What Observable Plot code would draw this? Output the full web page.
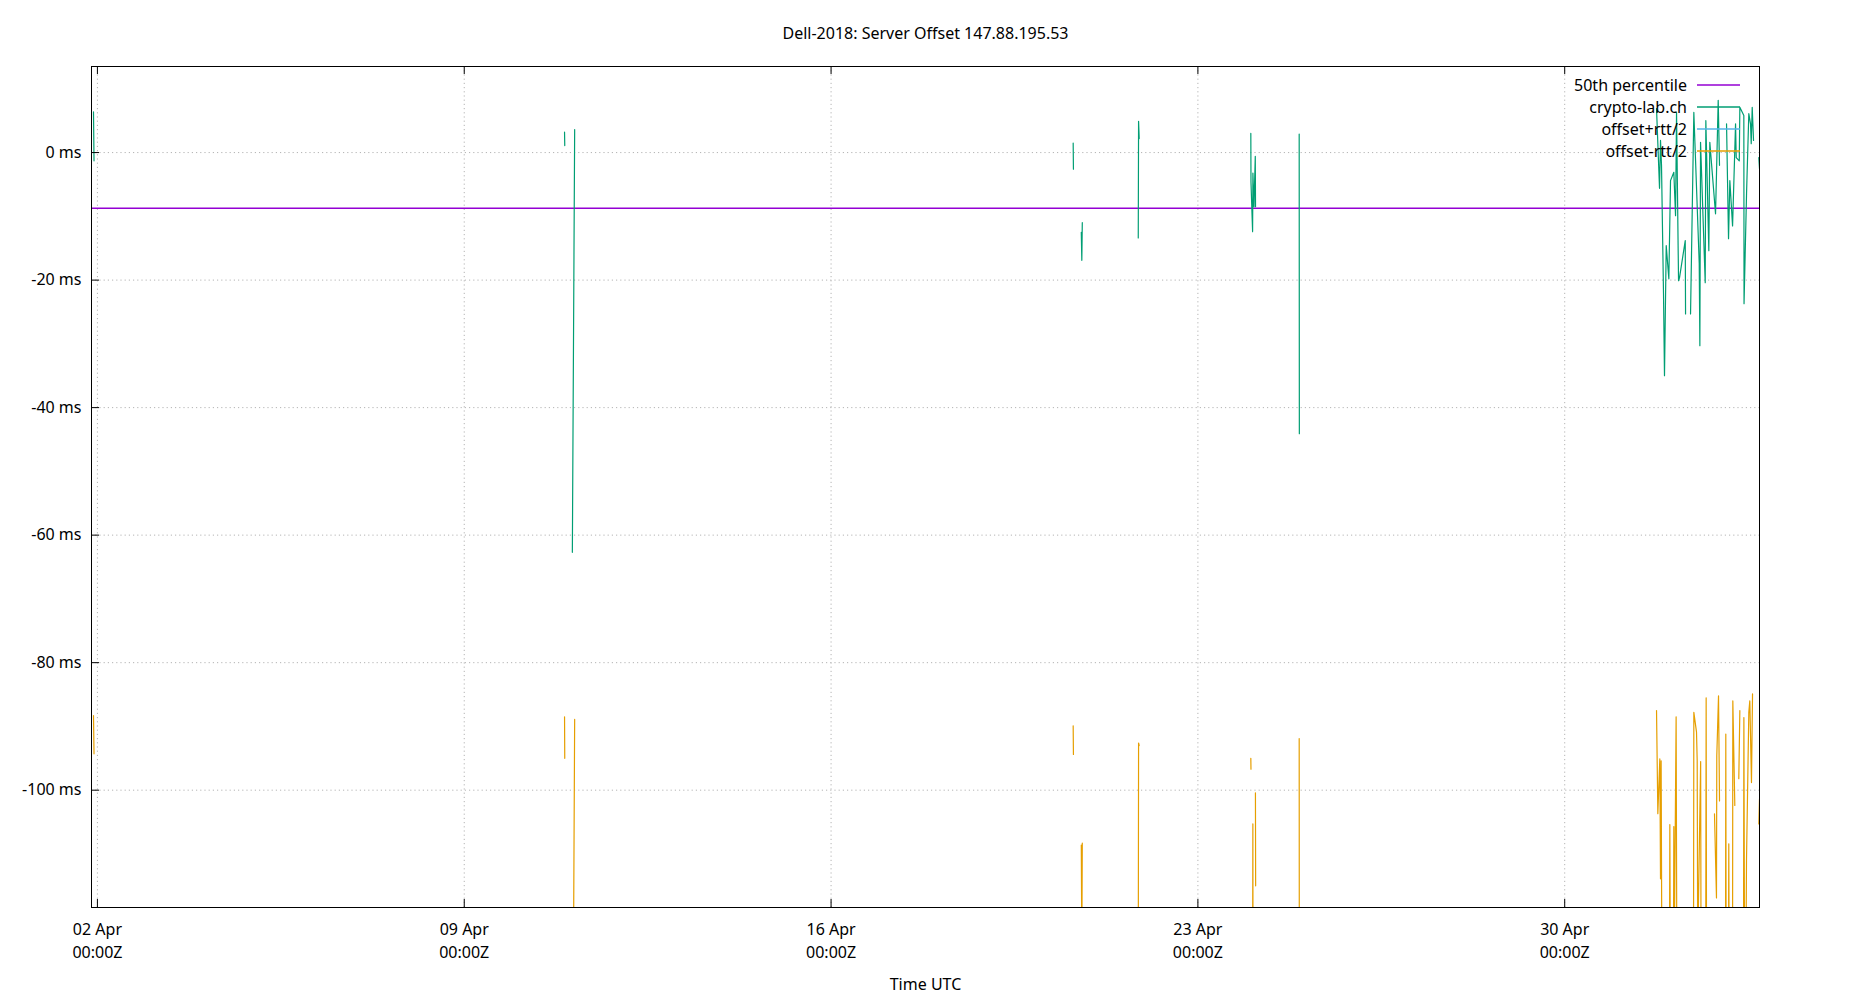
<!DOCTYPE html>
<html>
<head>
<meta charset="utf-8">
<script src="https://cdn.jsdelivr.net/npm/d3@7"></script>
<script src="https://cdn.jsdelivr.net/npm/@observablehq/plot@0.6"></script>
<style>
  html, body { margin: 0; padding: 0; background: #fff; }
  #chart svg { display: block; }
</style>
</head>
<body>
<div id="chart"></div>
<script>
// ---------- data (days are fractional days of April 2018, UTC; values in ms) ----------
const title = "Dell-2018: Server Offset 147.88.195.53";
const xLabel = "Time UTC";
const legendLabels = ["50th percentile", "crypto-lab.ch", "offset+rtt/2", "offset-rtt/2"];
const legendColors = ["#9400d3", "#009e73", "#56b4e9", "#e69f00"];
const median = -8.72;
const xDomainDays = [1.887, 33.717];
const yDomain = [-118.4, 13.5];
const xTickDays = [2, 9, 16, 23, 30];
const xTickLabels = ["02 Apr\n00:00Z", "09 Apr\n00:00Z", "16 Apr\n00:00Z", "23 Apr\n00:00Z", "30 Apr\n00:00Z"];
const yTicks = [0, -20, -40, -60, -80, -100];
const yTickLabels = ["0 ms", "-20 ms", "-40 ms", "-60 ms", "-80 ms", "-100 ms"];

// crypto-lab.ch offset, runs of [day, ms]
const offsetSegments = [
  [[1.925, 6.4], [1.935, -1.3]],
  [[10.914, 3.2], [10.918, 1.1]],
  [[11.063, -62.7], [11.107, 3.6]],
  [[20.620, 1.5], [20.625, -2.6]],
  [[20.775, -12.5], [20.785, -16.9], [20.794, -11.0]],
  [[21.862, -13.4], [21.868, 4.9], [21.880, 2.2]],
  [[24.010, 3.0], [24.013, -4.6], [24.044, -12.4], [24.050, -3.2], [24.070, -8.5], [24.095, -0.6], [24.100, -8.5]],
  [[24.933, 2.9], [24.936, -44.1]],
  [[31.752, 6.9], [31.809, -5.6], [31.828, 1.9], [31.847, -2.0], [31.885, -22.0], [31.904, -35.0],
   [31.937, -14.6], [31.987, -19.8], [32.019, -4.4], [32.082, -3.1], [32.115, -9.9], [32.134, 6.3],
   [32.172, -20.1], [32.191, -19.6], [32.300, -13.8], [32.306, -25.3]],
  [[32.401, -25.3], [32.464, 6.3],
   [32.567, -17.4], [32.579, -30.3], [32.592, 1.6], [32.681, -20.4], [32.693, 5.0], [32.750, -15.4],
   [32.769, 1.6], [32.878, -9.6], [32.897, -3.1], [32.929, 8.2], [32.954, -2.0]],
  [[33.088, 4.5],
   [33.126, -13.5], [33.151, -4.4], [33.203, -11.5], [33.260, 4.5], [33.273, -0.8], [33.331, -1.3],
   [33.342, 7.1], [33.418, 5.8], [33.422, -23.7], [33.470, -6.4], [33.513, 6.1], [33.546, 4.5],
   [33.559, 1.4], [33.578, 7.1], [33.603, 1.9]],
  [[33.704, -0.8], [33.717, -2.5], [33.774, -5.0]]
];

// offset - rtt/2, runs of [day, ms]
const lowSegments = [
  [[1.925, -88.3], [1.935, -94.3]],
  [[10.914, -88.5], [10.918, -95.0]],
  [[11.063, -160], [11.107, -88.9]],
  [[20.620, -89.9], [20.625, -94.4]],
  [[20.775, -108.6], [20.785, -125], [20.794, -108.3]],
  [[21.862, -130], [21.868, -92.6], [21.880, -93.0]],
  [[24.010, -95.0], [24.013, -96.7]],
  [[24.044, -130], [24.049, -105.3], [24.052, -130]],
  [[24.098, -100.4], [24.102, -115.0]],
  [[24.933, -91.9], [24.936, -139]],
  [[31.752, -87.5], [31.777, -103.7], [31.815, -95.1], [31.828, -113.9], [31.840, -95.4], [31.853, -125],
   [32.000, -125], [32.006, -105.4], [32.015, -125], [32.076, -125], [32.082, -105.7], [32.091, -125],
   [32.126, -88.5], [32.139, -125], [32.458, -125], [32.464, -87.8], [32.515, -90.9], [32.528, -95.4],
   [32.538, -125], [32.594, -95.5], [32.601, -125], [32.691, -125], [32.699, -85.5], [32.706, -125]],
  [[32.858, -103.7], [32.896, -116.9], [32.902, -94.6], [32.935, -85.2], [32.954, -101.7]],
  [[33.069, -125], [33.074, -91.2], [33.080, -125], [33.126, -125], [33.131, -108.4], [33.137, -125],
   [33.203, -125], [33.208, -86.0], [33.246, -102.4]],
  [[33.322, -98.2], [33.342, -87.5]],
  [[33.412, -125], [33.419, -88.6], [33.431, -125], [33.459, -125], [33.469, -111.0], [33.513, -87.8],
   [33.532, -86.0], [33.564, -98.8], [33.584, -84.9]],
  [[33.704, -105.3], [33.717, -101.4], [33.774, -99.0]]
];

// ---------- build ----------
const dayToDate = d => new Date(Date.UTC(2018, 3, 1) + (d - 1) * 864e5);
const toRows = segs => segs.flatMap((seg, k) => seg.map(([d, v]) => ({t: dayToDate(d), v, seg: k})));
const offsetRows = toRows(offsetSegments);
const lowRows = toRows(lowSegments);
const xTicks = xTickDays.map(dayToDate);
const xLabelMap = new Map(xTicks.map((d, i) => [+d, xTickLabels[i]]));
const yLabelMap = new Map(yTicks.map((d, i) => [d, yTickLabels[i]]));

const W = 1850, H = 1000, mt = 66, mb = 93, ml = 91, mr = 91;
const fw = W - ml - mr, fh = H - mt - mb;
const font = "'Noto Sans', 'DejaVu Sans', sans-serif";
const gridStyle = {stroke: "#b4b4b4", strokeOpacity: 1, strokeWidth: 1, strokeDasharray: "1.2,3"};

const chart = Plot.plot({
  width: W, height: H,
  marginTop: mt, marginBottom: mb, marginLeft: ml, marginRight: mr,
  style: {fontFamily: font, fontSize: "16px", color: "#000", background: "#fff"},
  x: {type: "utc", domain: xDomainDays.map(dayToDate)},
  y: {domain: yDomain},
  marks: [
    Plot.gridX(xTicks, gridStyle),
    Plot.gridY(yTicks, gridStyle),
    Plot.ruleY([median], {stroke: legendColors[0], strokeWidth: 1.5}),
    Plot.line(offsetRows, {x: "t", y: "v", z: "seg", stroke: legendColors[1], strokeWidth: 1.2, clip: true}),
    Plot.line(lowRows, {x: "t", y: "v", z: "seg", stroke: legendColors[3], strokeWidth: 1.2, clip: true}),
    Plot.axisX(xTicks, {tickSize: 0, tickPadding: 12, lineHeight: 1.4, fontSize: 16,
      tickFormat: d => xLabelMap.get(+d), label: null}),
    Plot.axisY(yTicks, {tickSize: 0, tickPadding: 10, fontSize: 16,
      tickFormat: d => yLabelMap.get(d), label: null}),
    Plot.ruleX(xTicks, {stroke: "#000", insetTop: fh - 8}),
    Plot.ruleX(xTicks, {stroke: "#000", insetBottom: fh - 8}),
    Plot.ruleY(yTicks, {stroke: "#000", insetRight: fw - 8}),
    Plot.frame({stroke: "#000", strokeWidth: 1}),
    Plot.text([title], {frameAnchor: "top", dy: -39, fontSize: 16}),
    Plot.text([xLabel], {frameAnchor: "bottom", dy: 82, fontSize: 16})
  ]
});

// legend (top-right, inside the frame, like gnuplot's key)
const svg = d3.select(chart);
const g = svg.append("g").attr("font-family", font).attr("font-size", 16).attr("fill", "#000");
legendLabels.forEach((lab, i) => {
  const y = mt + 19 + i * 22;
  g.append("text").attr("x", W - mr - 72).attr("y", y).attr("dy", "0.35em")
    .attr("text-anchor", "end").text(lab);
  g.append("line").attr("x1", W - mr - 62).attr("x2", W - mr - 19)
    .attr("y1", y).attr("y2", y).attr("stroke", legendColors[i]).attr("stroke-width", 1.5);
});

document.getElementById("chart").appendChild(chart);
</script>
</body>
</html>
